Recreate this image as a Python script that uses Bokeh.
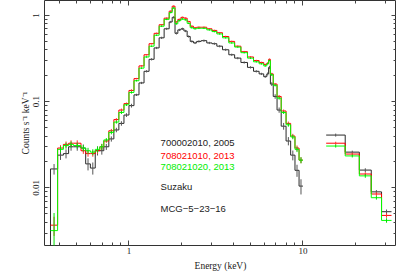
import math
from bokeh.plotting import figure
from bokeh.models import LogAxis, FixedTicker, Label
from bokeh.embed import file_html
from bokeh.resources import INLINE

# ---------------- data ----------------
xis_edges = [0.33, 0.354, 0.389, 0.42, 0.45, 0.48, 0.53, 0.564, 0.60, 0.64, 0.68,
             0.717, 0.766, 0.819, 0.875, 0.936, 1.0, 1.069, 1.142, 1.221, 1.305,
             1.395, 1.491, 1.593, 1.703, 1.772, 1.84, 1.91, 1.99, 2.07, 2.16,
             2.25, 2.35, 2.45, 2.6, 2.8, 3.0, 3.2, 3.45, 3.75, 4.05,
             4.4, 4.8, 5.2, 5.6, 5.95, 6.2, 6.35, 6.5, 6.75, 7.1,
             7.5, 8.0, 8.5, 9.0, 9.5, 10.0]

black_xis = [0.0015, 0.0166, 0.024, 0.025, 0.030, 0.030, 0.029, 0.019, 0.017, 0.027, 0.027,
             0.030, 0.037, 0.047, 0.056, 0.070, 0.090, 0.12, 0.165, 0.225, 0.31,
             0.42, 0.55, 0.70, 0.84, 0.95, 0.62, 0.68, 0.70, 0.66, 0.57,
             0.50, 0.48, 0.50, 0.51, 0.48, 0.47, 0.44, 0.40, 0.35, 0.32,
             0.285, 0.25, 0.225, 0.21, 0.195, 0.21, 0.25, 0.16, 0.115, 0.08,
             0.052, 0.035, 0.024, 0.016, 0.0105]
red_xis = [None, 0.0037, 0.029, 0.032, 0.033, 0.033, 0.027, 0.025, 0.025, 0.027, 0.030,
           0.035, 0.046, 0.062, 0.080, 0.095, 0.135, 0.185, 0.26, 0.35, 0.47,
           0.62, 0.78, 0.93, 1.12, 1.28, 0.84, 0.90, 0.95, 0.93, 0.85,
           0.75, 0.72, 0.73, 0.73, 0.70, 0.67, 0.63, 0.57, 0.50, 0.44,
           0.38, 0.33, 0.30, 0.285, 0.27, 0.28, 0.31, 0.21, 0.16, 0.115,
           0.078, 0.056, 0.040, 0.029, 0.021]
green_xis = [None, 0.0032, 0.028, 0.031, 0.032, 0.031, 0.029, 0.027, 0.026, 0.028, 0.030,
             0.036, 0.044, 0.058, 0.075, 0.092, 0.128, 0.175, 0.245, 0.33, 0.44,
             0.59, 0.75, 0.90, 1.08, 1.22, 0.80, 0.87, 0.91, 0.89, 0.81,
             0.72, 0.70, 0.71, 0.71, 0.68, 0.65, 0.61, 0.55, 0.48, 0.43,
             0.37, 0.32, 0.29, 0.275, 0.26, 0.275, 0.30, 0.205, 0.155, 0.11,
             0.075, 0.054, 0.039, 0.028, 0.021]

# relative 1-sigma errors
black_xis_err = [0.3, 0.14, 0.12, 0.12, 0.10, 0.10, 0.10, 0.16, 0.16, 0.12, 0.10,
                 0.08, 0.07, 0.06, 0.06, 0.05, 0.05] + [0.03] * 29 + \
                [0.04, 0.04, 0.05, 0.06, 0.07, 0.09, 0.11, 0.13, 0.16, 0.20]
red_xis_err = [0.0, 0.25, 0.08, 0.08, 0.08, 0.08, 0.08, 0.08, 0.08, 0.08, 0.08,
               0.05, 0.05, 0.04, 0.04, 0.03, 0.03] + [0.02] * 29 + \
              [0.02, 0.02, 0.03, 0.03, 0.04, 0.04, 0.05, 0.06, 0.07, 0.08]
green_xis_err = [0.0, 0.6, 0.08, 0.08, 0.08, 0.08, 0.08, 0.08, 0.08, 0.08, 0.08,
                 0.05, 0.05, 0.04, 0.04, 0.03, 0.03] + [0.02] * 29 + \
                [0.02, 0.02, 0.03, 0.03, 0.04, 0.04, 0.05, 0.06, 0.07, 0.08]

pin_edges = [13.6, 17.5, 21.1, 24.7, 28.3, 32.3]
black_pin = [0.041, 0.026, 0.0161, 0.0090, 0.0053]
red_pin = [0.033, 0.0247, 0.0145, 0.0085, 0.0048]
green_pin = [0.0306, 0.0235, 0.0138, 0.0077, 0.0042]
pin_err = [0.04, 0.04, 0.05, 0.05, 0.06]

labels = ["700002010, 2005", "708021010, 2013", "708021020, 2013", "Suzaku", "MCG\u22125\u221223\u221216"]
label_colors = ["#222222", "#ff0000", "#00ee00", "#222222", "#222222"]
label_y = [0.034, 0.024, 0.0175, 0.0103, 0.0058]
label_x = 1.52

x_lo, x_hi = 0.327, 34.5
y_lo, y_hi = 0.00215, 1.49

# ---------------- helpers ----------------
def steps(edges, vals):
    xs, ys = [], []
    for lo, hi, v in zip(edges[:-1], edges[1:], vals):
        if v is None:
            continue
        xs += [lo, hi]
        ys += [v, v]
    return xs, ys

def errbars(edges, vals, errs):
    xc, y0, y1 = [], [], []
    for lo, hi, v, e in zip(edges[:-1], edges[1:], vals, errs):
        if v is None or e <= 0:
            continue
        xc.append(math.sqrt(lo * hi))
        y0.append(v * (1 - e) if e < 1 else v * 0.01)
        y1.append(v * (1 + e))
    return xc, y0, y1

# ---------------- figure ----------------
p = figure(width=396, height=273, x_axis_type="log", y_axis_type="log",
           x_range=(x_lo, x_hi), y_range=(y_lo, y_hi),
           output_backend="svg", toolbar_location=None,
           min_border_left=44, min_border_right=0, min_border_top=0, min_border_bottom=0)
p.grid.visible = False
p.outline_line_color = "#333333"
p.outline_line_width = 1
p.background_fill_color = "white"
p.border_fill_color = "white"

x_major = [1, 10]
x_minor = [m * 10.0 ** k for k in (-1, 0, 1) for m in range(2, 10)]
y_major = [0.01, 0.1, 1]
y_minor = [m * 10.0 ** k for k in (-3, -2, -1, 0) for m in range(2, 10)]

def style_axis(ax, ticks, minor, overrides=None, show=True):
    ax.ticker = FixedTicker(ticks=ticks, minor_ticks=minor)
    ax.major_tick_in = 5
    ax.major_tick_out = 0
    ax.minor_tick_in = 3
    ax.minor_tick_out = 0
    ax.major_tick_line_color = "#444444"
    ax.minor_tick_line_color = "#444444"
    ax.axis_line_color = None
    if show:
        ax.major_label_overrides = overrides
        ax.major_label_text_font = "Liberation Serif"
        ax.major_label_text_font_size = "9px"
        ax.major_label_text_color = "#222222"
        ax.axis_label_text_font = "Liberation Serif"
        ax.axis_label_text_font_size = "9.5px"
        ax.axis_label_text_font_style = "normal"
        ax.axis_label_text_color = "#222222"
    else:
        ax.major_label_text_font_size = "1px"
        ax.major_label_text_alpha = 0
        ax.major_label_standoff = 0

style_axis(p.xaxis[0], x_major, x_minor, {1: "1", 10: "10"})
p.xaxis[0].axis_label = "Energy (keV)"
p.xaxis[0].major_label_standoff = 2
p.xaxis[0].axis_label_standoff = 4

style_axis(p.yaxis[0], y_major, y_minor, {0.01: "0.01", 0.1: "0.1", 1: "1"})
p.yaxis[0].axis_label = "Counts s\u207b\u00b9 keV\u207b\u00b9"
p.yaxis[0].major_label_orientation = "vertical"
p.yaxis[0].major_label_standoff = 5
p.yaxis[0].axis_label_standoff = 0

top = LogAxis()
style_axis(top, x_major, x_minor, show=False)
p.add_layout(top, "above")
right = LogAxis()
style_axis(right, y_major, y_minor, show=False)
p.add_layout(right, "right")

series = [
    (black_xis, black_xis_err, black_pin, "#2a2a2a", "#555555"),
    (red_xis, red_xis_err, red_pin, "#ff0000", "#ff3030"),
    (green_xis, green_xis_err, green_pin, "#00ff00", "#00e000"),
]
for xis_vals, xis_err, pin_vals, col, ecol in series:
    xs, ys = steps(xis_edges, xis_vals)
    p.line(xs, ys, line_color=col, line_width=1)
    xc, y0, y1 = errbars(xis_edges, xis_vals, xis_err)
    p.segment(x0=xc, y0=y0, x1=xc, y1=y1, line_color=ecol, line_width=1)
    xs, ys = steps(pin_edges, pin_vals)
    p.line(xs, ys, line_color=col, line_width=1)
    xc, y0, y1 = errbars(pin_edges, pin_vals, pin_err)
    p.segment(x0=xc, y0=y0, x1=xc, y1=y1, line_color=ecol, line_width=1)

for txt, c, yv in zip(labels, label_colors, label_y):
    p.add_layout(Label(x=label_x, y=yv, text=txt, text_color=c,
                       text_font="Liberation Sans", text_font_size="9.5px",
                       text_baseline="middle", text_align="left"))

open("out.html", "w").write(file_html(p, INLINE))
